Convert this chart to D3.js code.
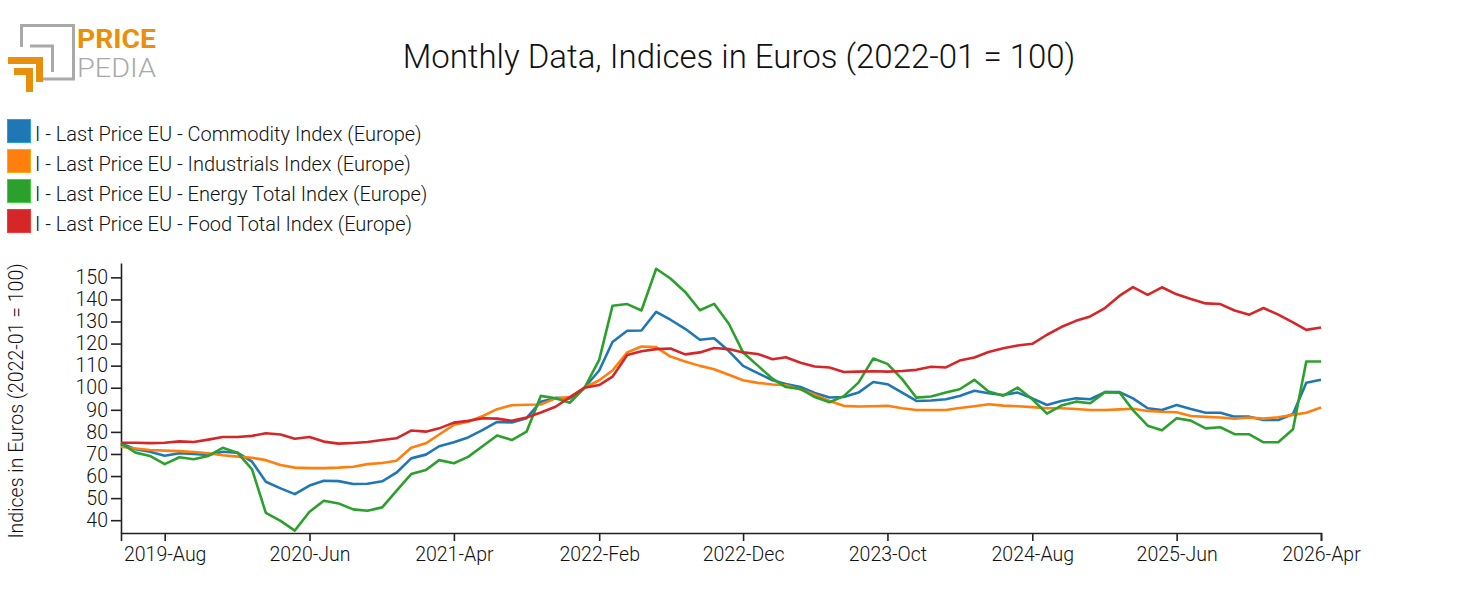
<!DOCTYPE html>
<html>
<head>
<meta charset="utf-8">
<script src="https://cdn.jsdelivr.net/npm/d3@7"></script>
<style>
  html, body { margin: 0; padding: 0; background: #fff; }
  svg { display: block; font-family: Roboto, "Noto Sans", sans-serif; }
</style>
</head>
<body>
<svg id="chart" width="1477" height="615"></svg>
<script>
// ---------------- DATA ----------------
const startMonth = "2019-05";
const endMonth = "2026-04";

const seriesNames = [
  "I - Last Price EU - Commodity Index (Europe)",
  "I - Last Price EU - Industrials Index (Europe)",
  "I - Last Price EU - Energy Total Index (Europe)",
  "I - Last Price EU - Food Total Index (Europe)"
];
const seriesColors = ["#1f77b4", "#ff7f0e", "#2ca02c", "#d62728"];

const commodity = [74.8, 72.2, 71.0, 69.2, 70.3, 70.0, 69.5, 71.0, 70.6, 66.5, 57.4, 54.4,
  51.8, 55.7, 57.9, 57.7, 56.4, 56.5, 57.6, 61.5, 68.0, 69.7, 73.5, 75.3,
  77.5, 80.9, 84.5, 84.3, 86.2, 93.7, 95.4, 95.2, 100.0, 107.8, 120.7, 125.8,
  125.9, 134.4, 130.8, 126.7, 121.7, 122.4, 116.6, 109.9, 106.6, 103.4, 101.7, 100.3,
  97.6, 95.6, 95.8, 97.8, 102.6, 101.6, 97.8, 94.0, 94.2, 94.8, 96.3, 98.6,
  97.5, 96.7, 97.8, 95.2, 92.2, 94.0, 95.2, 94.8, 98.0, 98.0, 95.2, 90.7,
  89.9, 92.2, 90.4, 88.7, 88.7, 86.9, 86.9, 85.4, 85.4, 88.1, 102.3, 103.6];

const industrials = [73.3, 72.5, 71.8, 71.5, 71.3, 70.9, 70.3, 69.4, 68.8, 68.3, 67.2, 65.0,
  63.8, 63.6, 63.6, 63.8, 64.2, 65.4, 65.9, 66.9, 72.8, 74.8, 78.8, 83.2,
  84.6, 87.2, 90.3, 92.1, 92.3, 92.4, 95.2, 95.8, 100.0, 103.4, 107.8, 116.0,
  118.7, 118.4, 114.1, 111.9, 109.9, 108.4, 105.9, 103.4, 102.2, 101.5, 101.1, 99.2,
  96.8, 94.0, 91.8, 91.5, 91.6, 91.8, 90.7, 89.9, 89.9, 89.9, 90.8, 91.6,
  92.5, 91.9, 91.6, 91.2, 90.7, 90.7, 90.4, 89.9, 89.9, 90.2, 90.5, 89.5,
  89.1, 88.9, 87.2, 86.8, 86.5, 86.0, 86.5, 86.0, 86.6, 87.7, 88.7, 91.0];

const energy = [74.8, 70.6, 69.1, 65.4, 68.5, 67.6, 69.1, 72.8, 70.6, 63.0, 43.3, 39.7,
  35.3, 43.8, 48.8, 47.6, 44.9, 44.3, 45.8, 53.3, 60.9, 62.7, 67.2, 65.8,
  68.7, 73.6, 78.4, 76.3, 80.1, 96.3, 95.2, 93.2, 100.0, 112.6, 137.1, 137.9,
  135.0, 153.9, 149.5, 143.4, 135.1, 138.0, 129.0, 116.0, 110.0, 104.1, 100.3, 99.5,
  95.8, 93.4, 96.2, 102.3, 113.2, 110.8, 103.9, 95.5, 96.0, 97.8, 99.3, 103.6,
  98.3, 96.4, 100.1, 94.8, 88.3, 91.9, 93.7, 93.0, 98.0, 97.8, 89.9, 82.8,
  80.7, 86.2, 85.1, 81.6, 82.1, 79.0, 78.9, 75.3, 75.3, 81.2, 111.9, 111.9];

const food = [75.1, 75.1, 74.9, 75.1, 75.7, 75.4, 76.5, 77.7, 77.7, 78.2, 79.4, 78.8,
  76.9, 77.7, 75.6, 74.7, 75.0, 75.4, 76.3, 77.1, 80.6, 80.1, 81.6, 84.2,
  85.0, 86.2, 86.0, 85.0, 86.5, 88.8, 91.4, 95.6, 100.0, 101.2, 105.0, 114.8,
  116.5, 117.5, 117.8, 115.1, 116.0, 118.0, 117.5, 116.0, 115.3, 112.9, 113.8, 111.3,
  109.6, 109.2, 107.1, 107.3, 107.5, 107.3, 107.6, 108.1, 109.5, 109.2, 112.3, 113.7,
  116.2, 117.9, 119.1, 119.9, 124.0, 127.5, 130.3, 132.3, 136.1, 141.7, 145.6, 142.1,
  145.5, 142.3, 140.2, 138.2, 137.9, 135.0, 133.1, 136.1, 133.1, 129.6, 126.2, 127.3];

const xTickLabels = ["2019-Aug", "2020-Jun", "2021-Apr", "2022-Feb", "2022-Dec",
  "2023-Oct", "2024-Aug", "2025-Jun", "2026-Apr"];
const yTickValues = [40, 50, 60, 70, 80, 90, 100, 110, 120, 130, 140, 150];

const titleText = "Monthly Data, Indices in Euros (2022-01 = 100)";
const yAxisTitle = "Indices in Euros (2022-01 = 100)";

// ---------------- CHART ----------------
const svg = d3.select("#chart");
const parseMonth = d3.timeParse("%Y-%m");
const parseTick = d3.timeParse("%Y-%b");
const fmtTick = d3.timeFormat("%Y-%b");

const months = d3.timeMonth.range(parseMonth(startMonth), d3.timeMonth.offset(parseMonth(endMonth), 1));
const allSeries = [commodity, industrials, energy, food];

const plot = { left: 121, right: 1321, top: 263, bottom: 533 };

const x = d3.scaleTime()
  .domain([parseMonth(startMonth), parseMonth(endMonth)])
  .range([plot.left, plot.right]);
const y = d3.scaleLinear()
  .domain([34.2, 156.5])
  .range([plot.bottom, plot.top]);

// Logo
const logo = svg.append("g").attr("class", "logo");
logo.append("path")
  .attr("d", "M21.5,47 V25.5 H73.5 V79 H42")
  .attr("fill", "none").attr("stroke", "#a9a9a9").attr("stroke-width", 3);
logo.append("path")
  .attr("d", "M30,46 H52.5 V72")
  .attr("fill", "none").attr("stroke", "#a9a9a9").attr("stroke-width", 3);
logo.append("path")
  .attr("d", "M8,57 H43 V82 H36 V64 H8 Z")
  .attr("fill", "#e8900c");
logo.append("path")
  .attr("d", "M14,68 H33 V92 H26 V75 H14 Z")
  .attr("fill", "#e8900c");
logo.append("text")
  .attr("x", 77).attr("y", 47.5)
  .attr("font-size", 25).attr("font-weight", 700)
  .attr("textLength", 79).attr("lengthAdjust", "spacingAndGlyphs")
  .attr("fill", "#e8900c").text("PRICE");
logo.append("text")
  .attr("x", 77).attr("y", 77)
  .attr("font-size", 25).attr("font-weight", 300)
  .attr("textLength", 79).attr("lengthAdjust", "spacingAndGlyphs")
  .attr("fill", "#a9a9a9").text("PEDIA");

// Title
svg.append("text")
  .attr("x", 739).attr("y", 68)
  .attr("text-anchor", "middle")
  .attr("font-size", 33).attr("font-weight", 300)
  .attr("fill", "#111")
  .text(titleText);

// Legend
const legend = svg.append("g").attr("class", "legend");
seriesNames.forEach((name, i) => {
  const g = legend.append("g").attr("transform", `translate(0,${i * 30})`);
  g.append("rect")
    .attr("x", 7.5).attr("y", 119.5).attr("width", 23).attr("height", 23)
    .attr("fill", seriesColors[i])
    .attr("stroke", d3.color(seriesColors[i]).brighter(0.8))
    .attr("stroke-width", 1);
  g.append("text")
    .attr("x", 35).attr("y", 141)
    .attr("font-size", 20).attr("font-weight", 300)
    .attr("fill", "#111")
    .text(name);
});

// Axes
const xAxis = d3.axisBottom(x)
  .tickValues(xTickLabels.map(parseTick))
  .tickFormat(fmtTick)
  .tickSize(8).tickSizeOuter(8).tickPadding(6);
const gx = svg.append("g")
  .attr("transform", `translate(0,${plot.bottom})`)
  .call(xAxis);

const yAxis = d3.axisLeft(y)
  .tickValues(yTickValues)
  .tickSize(10).tickSizeOuter(0).tickPadding(3);
const gy = svg.append("g")
  .attr("transform", `translate(${plot.left},0)`)
  .call(yAxis);

[gx, gy].forEach(g => {
  g.selectAll("path.domain").attr("stroke", "#222").attr("stroke-width", 1.6);
  g.selectAll(".tick line").attr("stroke", "#222").attr("stroke-width", 1.6);
  g.selectAll(".tick text")
    .attr("font-family", "Roboto, sans-serif")
    .attr("font-size", 19.5).attr("font-weight", 300).attr("fill", "#111");
});

// Y axis title
svg.append("text")
  .attr("transform", `translate(23,${(plot.top + plot.bottom) / 2 + 3}) rotate(-90)`)
  .attr("text-anchor", "middle")
  .attr("font-size", 19.5).attr("font-weight", 300)
  .attr("fill", "#111")
  .text(yAxisTitle);

// Lines
const line = d3.line()
  .x((d, i) => x(months[i]))
  .y(d => y(d));

const linesG = svg.append("g").attr("class", "lines");
allSeries.forEach((vals, i) => {
  linesG.append("path")
    .datum(vals)
    .attr("fill", "none")
    .attr("stroke", seriesColors[i])
    .attr("stroke-width", 2.6)
    .attr("stroke-linejoin", "round")
    .attr("d", line);
});
</script>
</body>
</html>
